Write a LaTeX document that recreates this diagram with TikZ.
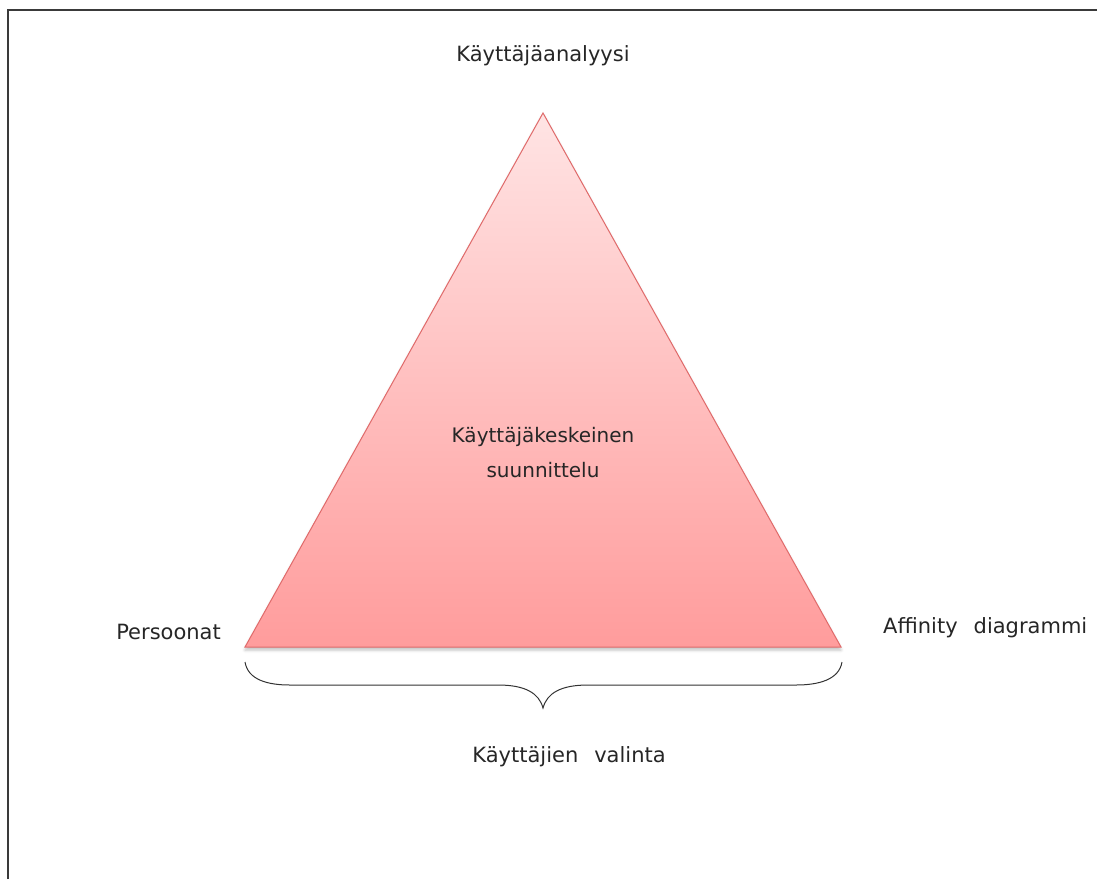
\documentclass[tikz,border=0pt]{standalone}
\usepackage{fontspec}
\setmainfont{DejaVu Sans}
\usetikzlibrary{shadows.blur}
\definecolor{edgered}{HTML}{E06A6A}
\definecolor{toppink}{HTML}{FFE4E4}
\definecolor{basepink}{HTML}{FF9C9C}
\definecolor{framegray}{HTML}{3A3A3A}
\tikzset{
  lbl/.style={font=\fontsize{21}{35}\selectfont, text=black!85, inner sep=0pt, align=center},
  tri/.style={draw=edgered, line width=1pt, top color=toppink, bottom color=basepink,
    blur shadow={shadow xshift=0pt, shadow yshift=-3pt, shadow blur radius=3pt, shadow opacity=25}},
  brace/.style={draw=black!80, line width=1pt},
  frame/.style={draw=framegray, line width=2pt}
}
\begin{document}
\begin{tikzpicture}[x=1pt, y=-1pt]
\useasboundingbox (0,0) rectangle (1097,879);
% open frame: left and top edges
\draw[frame] (8,879) -- (8,10) -- (1097,10);
% triangle corners
\coordinate (apex) at (543,113);
\coordinate (bl) at (245,647);
\coordinate (br) at (841,647);
\path[tri] (apex) -- (br) -- (bl) -- cycle;
% brace under the base
\coordinate (bs) at (245,662);
\coordinate (be) at (842,662);
\coordinate (tip) at (543,708);
\draw[brace] (bs) .. controls (248,680) and (268,685) .. (290,685) -- (498,685)
  .. controls (525,685) and (539,693) .. (tip)
  .. controls (547,693) and (561,685) .. (588,685) -- (796,685)
  .. controls (818,685) and (839,680) .. (be);
% labels
\node[lbl] (top) at (543,56) {Käyttäjäanalyysi};
\node[lbl, font=\fontsize{20}{35}\selectfont] (mid) at (543,453) {Käyttäjäkeskeinen\\suunnittelu};
\node[lbl, anchor=east] (left) at (221,632) {Persoonat};
\node[lbl, anchor=west] (right) at (883,628) {Affinity\hspace{16pt}diagrammi};
\node[lbl] (bottom) at (569,757) {Käyttäjien\hspace{16pt}valinta};
\end{tikzpicture}
\end{document}
